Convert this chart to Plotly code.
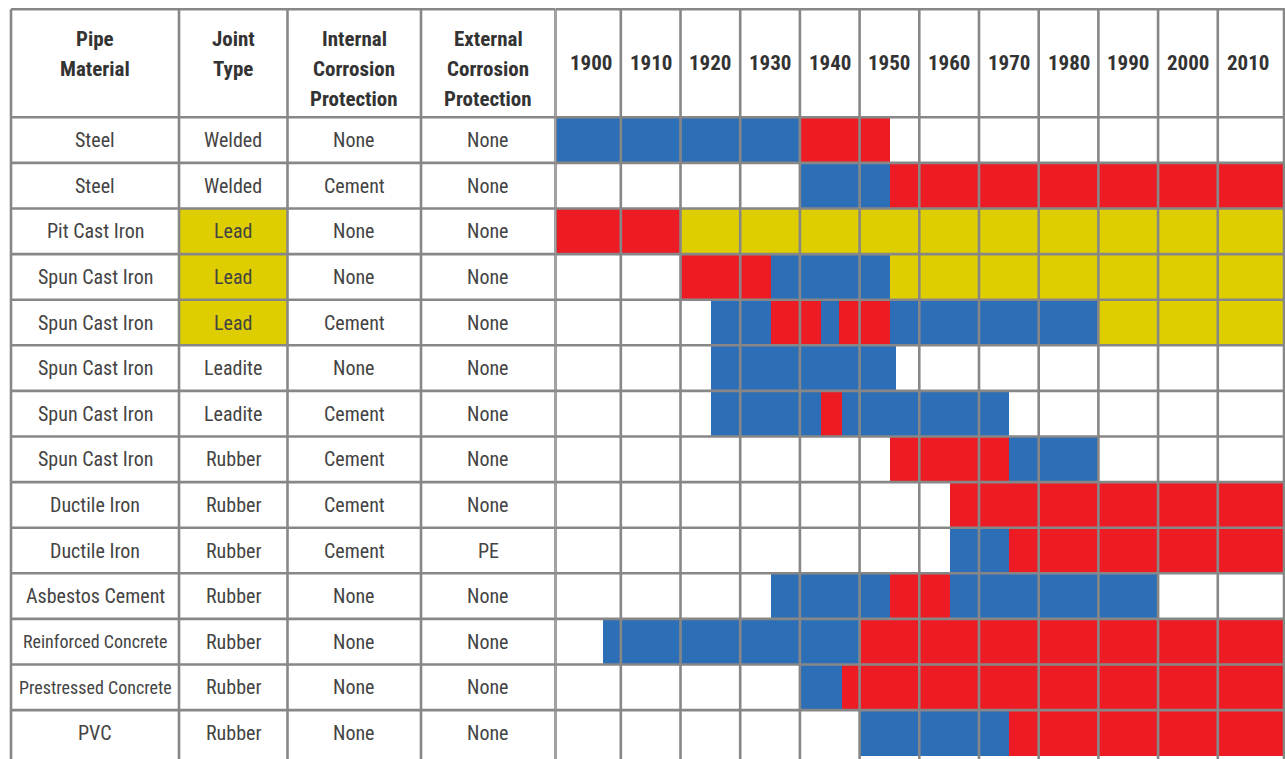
import plotly.graph_objects as go

# ---------------- data ----------------
materials = ["Steel", "Steel", "Pit Cast Iron", "Spun Cast Iron", "Spun Cast Iron",
             "Spun Cast Iron", "Spun Cast Iron", "Spun Cast Iron", "Ductile Iron",
             "Ductile Iron", "Asbestos Cement", "Reinforced Concrete",
             "Prestressed Concrete", "PVC"]
joint_types = ["Welded", "Welded", "Lead", "Lead", "Lead", "Leadite", "Leadite",
               "Rubber", "Rubber", "Rubber", "Rubber", "Rubber", "Rubber", "Rubber"]
internal_protection = ["None", "Cement", "None", "None", "Cement", "None", "Cement",
                       "Cement", "Cement", "Cement", "None", "None", "None", "None"]
external_protection = ["None", "None", "None", "None", "None", "None", "None",
                       "None", "None", "PE", "None", "None", "None", "None"]

header_labels = ["Pipe<br>Material", "Joint<br>Type",
                 "Internal<br>Corrosion<br>Protection",
                 "External<br>Corrosion<br>Protection"]
decades = [1900, 1910, 1920, 1930, 1940, 1950, 1960, 1970, 1980, 1990, 2000, 2010]
period_end = 2020

# colored periods: row index, start year, end year, colour class
seg_row = [0, 0,
           1, 1,
           2, 2,
           3, 3, 3,
           4, 4, 4, 4, 4, 4,
           5,
           6, 6, 6,
           7, 7,
           8,
           9, 9,
           10, 10, 10,
           11, 11,
           12, 12,
           13, 13]
seg_start = [1900, 1940,
             1940, 1955,
             1900, 1920,
             1920, 1935, 1955,
             1925, 1935, 1943.5, 1946.5, 1955, 1990,
             1925,
             1925, 1943.5, 1947,
             1955, 1975,
             1965,
             1965, 1975,
             1935, 1955, 1965,
             1907, 1950,
             1940, 1947,
             1950, 1975]
seg_end = [1940, 1955,
           1955, 2020,
           1920, 2020,
           1935, 1955, 2020,
           1935, 1943.5, 1946.5, 1955, 1990, 2020,
           1956,
           1943.5, 1947, 1975,
           1975, 1990,
           2020,
           1975, 2020,
           1955, 1965, 2000,
           1950, 2020,
           1947, 2020,
           1975, 2020]
seg_class = ["blue", "red",
             "blue", "red",
             "red", "yellow",
             "red", "blue", "yellow",
             "blue", "red", "blue", "red", "blue", "yellow",
             "blue",
             "blue", "red", "blue",
             "red", "blue",
             "red",
             "blue", "red",
             "blue", "red", "blue",
             "blue", "red",
             "blue", "red",
             "blue", "red"]

# ---------------- style / layout constants ----------------
COLORS = {"blue": "#2C6FB7", "red": "#ED1C24", "yellow": "#DECE00"}
GRID = "#878787"
GRID_W = 2.6
FONT = "Liberation Sans Narrow, Arial Narrow, Roboto Condensed, DejaVu Sans Condensed, sans-serif"
TXT = "#444444"
HDR = "#333333"

W, H = 1285, 759
ROW_PX = 45.6
HEADER_TOP_PX = 9.3
HEADER_BOTTOM_PX = 117.3
Y_TOP = -0.5 - HEADER_BOTTOM_PX / ROW_PX
Y_BOTTOM = Y_TOP + H / ROW_PX
Y_HEADER_TOP = Y_TOP + HEADER_TOP_PX / ROW_PX
HEADER_LINE_PX = [39, 69, 99]
HEADER_MID_PX = 63

# left table columns (x axis in pixels of the table part)
TABLE_RIGHT = 555.5
COL_EDGES = [11, 179, 287.5, 421, 555.5]
# year axis
X2_LO, X2_HI = 1899.06, 2021.26
RIGHT_BORDER = 2021.1


def py(px):
    return Y_TOP + px / ROW_PX


n_rows = len(materials)
fig = go.Figure()

# colored periods on the year axis
for cls in ["blue", "red", "yellow"]:
    ys, bases, lens = [], [], []
    for r, s, e, c in zip(seg_row, seg_start, seg_end, seg_class):
        if c != cls:
            continue
        lo = X2_LO if s <= decades[0] else s
        hi = X2_HI if e >= period_end else e
        ys.append(r)
        bases.append(lo)
        lens.append(hi - lo)
    fig.add_trace(go.Bar(orientation="h", y=ys, x=lens, base=bases, width=1,
                         marker=dict(color=COLORS[cls], line=dict(width=0)),
                         xaxis="x2", yaxis="y", showlegend=False, hoverinfo="skip"))

# yellow highlight of lead joints
lead_rows = [i for i, j in enumerate(joint_types) if j == "Lead"]
fig.add_trace(go.Bar(orientation="h", y=lead_rows,
                     x=[COL_EDGES[2] - COL_EDGES[1]] * len(lead_rows),
                     base=[COL_EDGES[1]] * len(lead_rows), width=1,
                     marker=dict(color=COLORS["yellow"], line=dict(width=0)),
                     xaxis="x", yaxis="y", showlegend=False, hoverinfo="skip"))

# grid lines (drawn above the coloured cells); the table continues below the view
h_lines = [Y_HEADER_TOP] + [i - 0.5 for i in range(n_rows)]
for xa, x0, x1, vx in [("x", 0, TABLE_RIGHT, COL_EDGES),
                        ("x2", X2_LO, X2_HI, [X2_LO] + decades[1:] + [RIGHT_BORDER])]:
    xs, ys = [], []
    for yv in h_lines:
        lo = COL_EDGES[0] if xa == "x" else x0
        xs += [lo, x1, None]
        ys += [yv, yv, None]
    for xv in vx:
        xs += [xv, xv, None]
        ys += [Y_HEADER_TOP, Y_BOTTOM, None]
    fig.add_trace(go.Scatter(x=xs, y=ys, mode="lines", xaxis=xa, yaxis="y",
                             line=dict(color=GRID, width=GRID_W),
                             showlegend=False, hoverinfo="skip"))

ann = []
# header of table columns
for k, lab in enumerate(header_labels):
    cx = (COL_EDGES[k] + COL_EDGES[k + 1]) / 2
    for li, line in enumerate(lab.split("<br>")):
        ann.append(dict(x=cx, y=py(HEADER_LINE_PX[li]), xref="x", yref="y",
                        text=line, showarrow=False,
                        font=dict(family=FONT, size=21, color=HDR, weight="bold")))
# decade headers
for d in decades:
    ann.append(dict(x=d + 5, y=py(HEADER_MID_PX), xref="x2", yref="y",
                    text=str(d), showarrow=False,
                    font=dict(family=FONT, size=21, color=HDR, weight="bold")))
# body cells
for i in range(n_rows):
    cells = [materials[i], joint_types[i], internal_protection[i], external_protection[i]]
    for k, t in enumerate(cells):
        cx = (COL_EDGES[k] + COL_EDGES[k + 1]) / 2
        size = 18 if len(t) > 17 else 20
        ann.append(dict(x=cx, y=i, xref="x", yref="y", text=t, showarrow=False,
                        font=dict(family=FONT, size=size, color=TXT)))

fig.update_layout(
    width=W, height=H,
    margin=dict(l=0, r=0, t=0, b=0),
    paper_bgcolor="white", plot_bgcolor="white",
    barmode="overlay", bargap=0,
    annotations=ann,
    xaxis=dict(domain=[0, TABLE_RIGHT / W], range=[0, TABLE_RIGHT],
               visible=False, fixedrange=True),
    xaxis2=dict(domain=[TABLE_RIGHT / W, 1], range=[X2_LO, X2_HI],
                visible=False, fixedrange=True, anchor="y"),
    yaxis=dict(range=[Y_BOTTOM, Y_TOP], visible=False, fixedrange=True),
)

fig.write_html("out.html", config={"displayModeBar": False},
               post_script="document.body.style.margin='0';"
                           "document.body.style.overflow='hidden';")
